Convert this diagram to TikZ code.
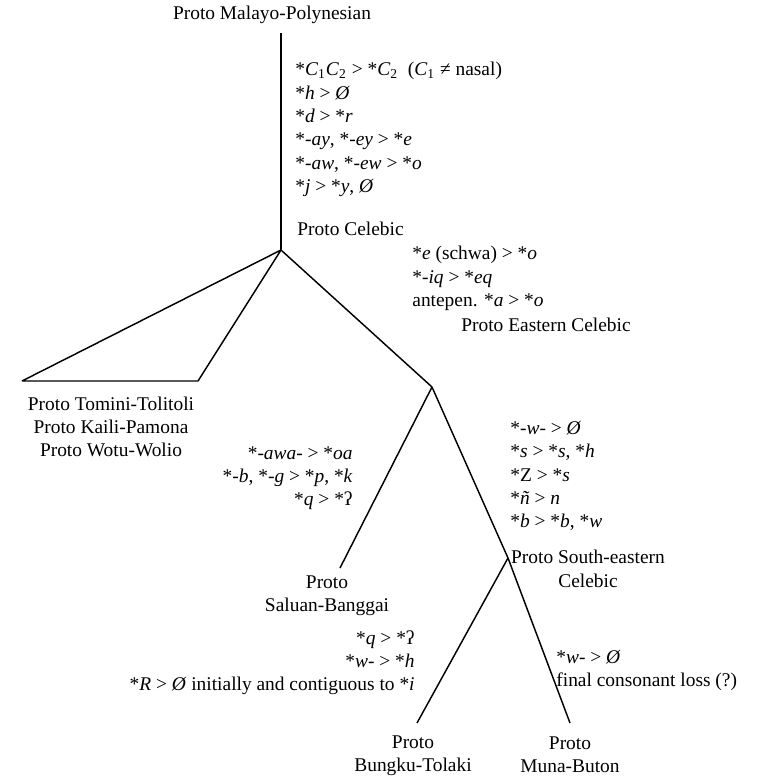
\documentclass[tikz,border=0pt]{standalone}
\usepackage{fontspec}
\setmainfont{Liberation Serif}
\usetikzlibrary{positioning}

\tikzset{
  lang/.style={inner sep=0pt, align=center, font=\fontsize{10}{12}\selectfont},
  rules/.style={inner sep=0pt, font=\fontsize{10}{12}\selectfont},
  branch/.style={line width=0.75pt}
}
\newcommand{\fm}[1]{\textit{#1}}

\begin{document}
\begin{tikzpicture}[x=0.515pt, y=-0.515pt]
        \useasboundingbox (0,0) rectangle (763,777);

        % family labels
        \node[lang] (pmp) at (272,15) {Proto Malayo-Polynesian};
        \node[lang, anchor=west] (pcel) at (297,229) {Proto Celebic};
        \node[lang] (pecel) at (546,325) {Proto Eastern Celebic};
        \node[lang] (ptt) at (111,427) {Proto Tomini-Tolitoli\\Proto Kaili-Pamona\\Proto Wotu-Wolio};
        \node[lang] (psb) at (327,596) {Proto\\Saluan-Banggai};
        \node[lang] (psec) at (588,569) {Proto South-eastern\\Celebic};
        \node[lang] (pbt) at (413,756) {Proto\\Bungku-Tolaki};
        \node[lang] (pmb) at (570,755) {Proto\\Muna-Buton};

        % sound changes
        \node[rules, anchor=north west, align=left] (r1) at (295,62)
          {*\fm{C}\textsubscript{1}\fm{C}\textsubscript{2} > *\fm{C}\textsubscript{2}\ \ (\fm{C}\textsubscript{1} ≠ nasal)\\
           *\fm{h} > \fm{Ø}\\
           *\fm{d} > *\fm{r}\\
           *-\fm{ay}, *-\fm{ey} > *\fm{e}\\
           *-\fm{aw}, *-\fm{ew} > *\fm{o}\\
           *\fm{j} > *\fm{y}, \fm{Ø}};
        \node[rules, anchor=north west, align=left] (r2) at (412,246)
          {*\fm{e} (schwa) > *\fm{o}\\
           *-\fm{iq} > *\fm{eq}\\
           antepen. *\fm{a} > *\fm{o}};
        \node[rules, anchor=north east, align=right] (r3) at (353,446)
          {*-\fm{awa}- > *\fm{oa}\\
           *-\fm{b}, *-\fm{g} > *\fm{p}, *\fm{k}\\
           *\fm{q} > *ʔ};
        \node[rules, anchor=north west, align=left] (r4) at (510,421)
          {*-\fm{w}- > \fm{Ø}\\
           *\fm{s} > *\fm{s}, *\fm{h}\\
           *Z > *\fm{s}\\
           *\fm{ñ} > \fm{n}\\
           *\fm{b} > *\fm{b}, *\fm{w}};
        \node[rules, anchor=north east, align=right] (r5) at (415,630)
          {*\fm{q} > *ʔ\\
           *\fm{w}- > *\fm{h}\\
           *\fm{R} > \fm{Ø} initially and contiguous to *\fm{i}};
        \node[rules, anchor=north west, align=left] (r6) at (556,650)
          {*\fm{w}- > \fm{Ø}\\
           final consonant loss (?)};

        % junctions
        \coordinate (top) at (281,33);
        \coordinate (cel) at (281,250);
        \coordinate (tl) at (22,381);
        \coordinate (tr) at (198,381);
        \coordinate (ecel) at (432,387);
        \coordinate (sb) at (340,568);
        \coordinate (secel) at (508,558);
        \coordinate (bt) at (417,723);
        \coordinate (mb) at (570,723);

        \draw[branch] (top) -- (cel);
        \draw[branch, line join=bevel] (cel) -- (tl) -- (tr) -- cycle;
        \draw[branch] (cel) -- (ecel);
        \draw[branch] (ecel) -- (sb);
        \draw[branch] (ecel) -- (secel);
        \draw[branch] (secel) -- (bt);
        \draw[branch] (secel) -- (mb);
    \end{tikzpicture}
\end{document}
